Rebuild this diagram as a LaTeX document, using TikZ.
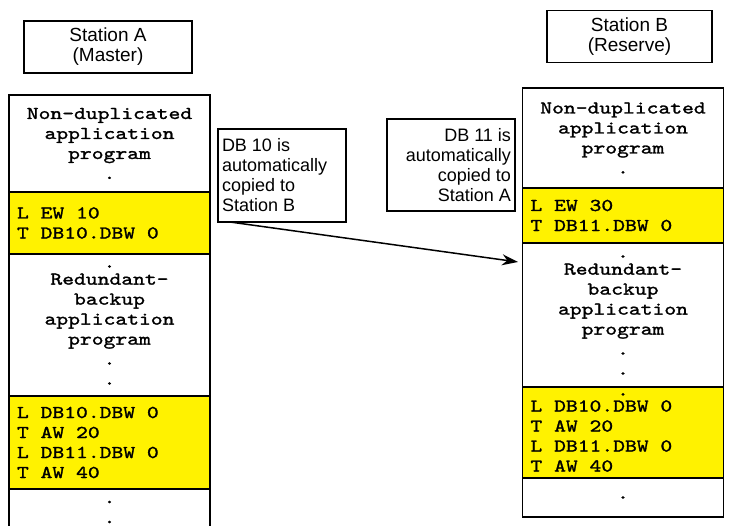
\documentclass[tikz,border=0pt]{standalone}
\usepackage{fontspec}
\setmainfont{Liberation Sans}
\newfontfamily\codefam{lmmono10-regular.otf}[FakeStretch=1.25, FakeBold=1.5]
\usetikzlibrary{positioning,arrows.meta}
\newcommand{\codefont}{\fontsize{18bp}{20bp}\selectfont\codefam}
\newcommand{\stationfont}{\fontsize{19bp}{20bp}\selectfont}
\newcommand{\notefont}{\fontsize{18bp}{20bp}\selectfont}

\begin{document}
\begin{tikzpicture}[
  x=1bp, y=-1bp,
  node distance=0pt,
  stationbox/.style={draw, line width=1.2bp, font=\stationfont, align=center, minimum height=52bp, outer sep=0pt},
  plainpart/.style={draw, line width=1.2bp, fill=white, font=\codefont, align=flush center, text width=185bp, inner xsep=8bp, inner ysep=0pt, outer sep=0pt},
  codepart/.style={plainpart, fill=yellow, align=flush left},
  notebox/.style={draw, line width=1.2bp, fill=white, font=\notefont, text width=120bp, inner xsep=4bp, inner ysep=0pt, outer sep=0pt, anchor=north west},
  arrow/.style={-{Stealth[length=16bp, width=11bp]}, line width=1.5bp}
]
\clip (0,0) rectangle (733,526);

\node[stationbox, minimum width=168bp] (staA) at (108,47) {Station A\\(Master)};
\node[stationbox, minimum width=165bp] (staB) at (629.5,36.5) {Station B\\(Reserve)};

\node[plainpart, minimum height=97bp, anchor=north] (a1) at (109.5,95) {Non-duplicated\\application\\program\\.};
\node[codepart, minimum height=62bp, below=of a1] (a2) {L EW 10\\T DB10.DBW 0};
\node[plainpart, minimum height=142bp, below=of a2] (a3) {.\\[-3bp]Redundant-\\backup\\application\\program\\.\\.};
\node[codepart, minimum height=93bp, below=of a3] (a4) {L DB10.DBW 0\\T AW 20\\L DB11.DBW 0\\T AW 40};
\node[plainpart, minimum height=46bp, below=of a4] (a5) {.\\.};
\draw[line width=1.2bp] (a4.south west) -- ++(0,60) (a4.south east) -- ++(0,60);

\node[plainpart, minimum height=100bp, anchor=north] (b1) at (623,88) {Non-duplicated\\application\\program\\.};
\node[codepart, minimum height=55bp, below=of b1] (b2) {L EW 30\\T DB11.DBW 0};
\node[plainpart, minimum height=144bp, below=of b2] (b3) {.\\[-3bp]Redundant-\\backup\\application\\program\\.\\.};
\node[codepart, minimum height=91bp, below=of b3] (b4) {\makebox[\linewidth]{.}\\[-4bp]L DB10.DBW 0\\T AW 20\\L DB11.DBW 0\\T AW 40};
\node[plainpart, minimum height=39bp, below=of b4] (b5) {.};

\node[notebox, align=flush left, minimum height=93bp] (db10) at (218,129) {DB 10 is\\automatically\\copied to\\Station B};
\node[notebox, align=flush right, minimum height=92bp] (db11) at (387,119) {DB 11 is\\automatically\\copied to\\Station A};

\coordinate (copyend) at (518,262);
\draw[arrow] ([xshift=12bp]db10.south west) -- (copyend);
\end{tikzpicture}
\end{document}
